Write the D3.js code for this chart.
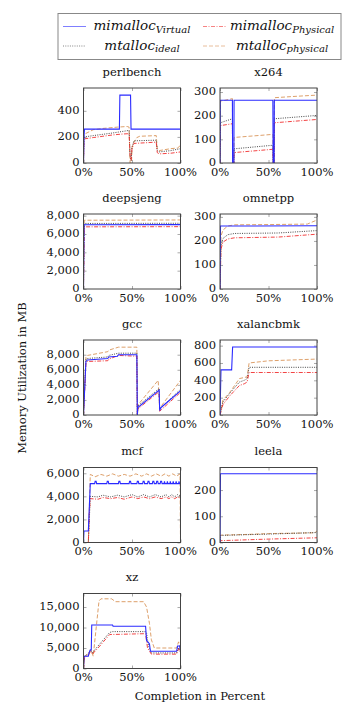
<!DOCTYPE html>
<html lang="en">
<head>
<meta charset="utf-8">
<title>Memory utilization</title>
<script src="https://d3js.org/d3.v7.min.js"></script>
<style>
  body { margin: 0; background: #fff; }
  text { font-family: "DejaVu Serif", serif; fill: #111; }
  .legend text { font-style: italic; }
</style>
</head>
<body>
<div id="chart"></div>
<script>

// benchmarks in reading order (left->right, top->bottom)
var benchmarks = ["perlbench", "x264", "deepsjeng", "omnetpp", "gcc", "xalancbmk", "mcf", "leela", "xz"];
var yMax = [575, 317, 8180, 312, 9950, 865, 6500, 286, 18300];
var yTicks = [
  [0, 200, 400],
  [0, 100, 200, 300],
  [0, 2000, 4000, 6000, 8000],
  [0, 100, 200, 300],
  [0, 2000, 4000, 6000, 8000],
  [0, 200, 400, 600, 800],
  [0, 2000, 4000, 6000],
  [0, 100, 200],
  [0, 5000, 10000, 15000]
];
var xTicks = [0, 50, 100];

// series: [percent, MB] per benchmark
var mimallocVirtual = [
  [[0,0],[0.5,200],[1,260],[37,260],[37.5,520],[48.5,520],[49,260],[100,260]],
  [[0,0],[0.3,265],[12.8,265],[13,0],[14.3,0],[14.5,265],[54.5,265],[54.8,0],[55.8,0],[56,265],[100,265]],
  [[0,0],[0.5,7000],[100,7020]],
  [[0,0],[0.5,262],[100,263]],
  [[0,0],[2.5,7100],[4,7300],[25,7500],[26,7700],[35,7800],[36,8000],[55,8000],[55.5,0],[56,1000],[78,3300],[78.5,600],[80,1000],[100,3200]],
  [[0,0],[1,520],[12,520],[13,785],[100,785]],
  [[0,0],[0.5,1000],[5,1000],[7,5100],[11.5,5100],[12,5300],[13,5300],[13.5,5100],[24,5100],[24.5,5300],[25.5,5300],[26,5100],
   [36,5100],[36.5,5300],[37.5,5300],[38,5100],[47,5100],[47.5,5300],[48.5,5300],[49,5100],[55,5100],[55.5,5300],[56.5,5300],[57,5100],
   [61,5100],[61.5,5300],[62.5,5300],[63,5100],[66,5100],[66.5,5300],[67.5,5300],[68,5100],[71,5100],[71.5,5300],[72.5,5300],[73,5100],
   [75,5100],[75.5,5300],[76.5,5300],[77,5100],[79,5100],[79.5,5300],[80.5,5300],[81,5100],[83,5100],[83.5,5300],[84,5100],
   [86,5100],[86.5,5300],[87,5100],[89,5100],[89.5,5300],[90,5100],[92,5100],[92.5,5300],[93,5100],[95,5100],[95.5,5300],[96,5100],
   [98,5100],[98.5,5300],[99,5100],[100,5100]],
  [[0,0],[0.5,262],[100,262]],
  [[0,0],[0.5,3000],[5,3000],[6,4000],[7,4500],[8,4500],[8.5,10600],[30,10600],[30.5,10300],[64,10300],[65,6800],[67,6300],[68,6000],[69,4200],[96,4200],[97,5500],[99,5500],[100,4500]]
];

var mimallocPhysical = [
  [[0,0],[0.5,170],[1,185],[10,195],[20,205],[30,215],[40,222],[47,225],[48,60],[49,20],[50,110],[52,150],[75,160],[76,80],[78,70],[90,75],[100,85]],
  [[0,0],[0.3,158],[12.8,166],[13,0],[14.3,0],[14.5,44],[54.5,58],[54.8,0],[55.8,0],[56,170],[100,184]],
  [[0,0],[0.8,6780],[100,6800]],
  [[0,0],[1,165],[3,195],[8,208],[15,213],[60,216],[100,228]],
  [[0,0],[2.5,6900],[4,7100],[25,7200],[26,7400],[36,7900],[55,7800],[55.5,0],[56,800],[78,3100],[78.5,500],[100,3000]],
  [[0,0],[3,120],[10,220],[20,340],[25,360],[28,380],[30,490],[100,490]],
  [[0,0],[5,0],[6,2500],[7,3800],[15,3750],[20,3900],[28,3800],[35,3900],[42,3750],[50,3950],[56,3800],[62,3950],[68,3800],[74,3950],
   [80,3800],[85,3950],[88,3800],[91,3950],[94,3800],[97,3950],[100,3850]],
  [[0,0],[0.5,7],[50,13],[100,18]],
  [[0,0],[1,2700],[5,3200],[7,4200],[9,3500],[15,5000],[27,8300],[30,8300],[64,8500],[66,5000],[70,3500],[96,3500],[98,4800],[100,4000]]
];

var mtallocIdeal = [
  [[0,0],[0.5,190],[1,200],[10,210],[30,230],[47,250],[48,60],[49,20],[50,120],[52,170],[75,175],[76,95],[78,85],[90,95],[100,110]],
  [[0,0],[0.3,170],[12.8,187],[13,0],[14.3,0],[14.5,60],[54.5,75],[54.8,0],[55.8,0],[56,187],[100,201]],
  [[0,0],[0.8,7150],[100,7170]],
  [[0,0],[1,180],[3,210],[8,226],[15,231],[60,233],[100,243]],
  [[0,0],[2.5,7400],[4,7500],[25,7700],[26,7900],[36,8200],[55,8200],[55.5,0],[56,1200],[78,3500],[78.5,800],[100,3400]],
  [[0,0],[3,150],[10,250],[20,380],[25,400],[28,420],[30,550],[100,550]],
  [[0,0],[5,0],[6,2000],[7,4000],[15,3950],[20,4100],[28,3950],[35,4100],[42,3950],[50,4150],[56,3950],[62,4150],[68,3950],[74,4150],
   [80,3950],[85,4150],[88,3950],[91,4150],[94,3950],[97,4150],[100,4000]],
  [[0,0],[0.5,27],[50,32],[100,38]],
  [[0,0],[1,3000],[5,3500],[7,4600],[9,3800],[15,5500],[27,8800],[30,9000],[64,9000],[65,8600],[67,5500],[70,3800],[96,3800],[98,5000],[100,4000]]
];

var mtallocPhysical = [
  [[0,0],[0.5,210],[2,225],[10,255],[20,265],[35,275],[45,280],[47,275],[48,0],[49.5,0],[50,120],[52,160],[55,195],[58,205],[75,210],[76,110],[78,95],[90,110],[97,115],[100,135]],
  [[0,0],[0.3,262],[5,265],[12.8,272],[13,0],[14.3,0],[14.5,108],[30,113],[54.5,121],[54.8,0],[55.8,0],[56,276],[75,281],[100,287]],
  [[0,0],[0.8,7500],[100,7530]],
  [[0,0],[1,220],[3,245],[8,262],[15,267],[50,268],[90,270],[100,287]],
  [[0,0],[2.5,7700],[4,7900],[25,8400],[26,8600],[36,9000],[55,9000],[55.5,0],[56.5,1400],[77,4600],[78.5,900],[100,4600]],
  [[0,0],[3,170],[10,260],[20,420],[28,440],[30,600],[50,625],[100,645]],
  [[0,0],[5,0],[6,3000],[7,5900],[12,5700],[18,5900],[24,5750],[30,5950],[36,5750],[42,5900],[48,5750],[54,5950],[60,5750],
   [65,5950],[70,5750],[75,5950],[80,5750],[84,5950],[88,5750],[92,5950],[96,5750],[99.5,5950],[100,0]],
  [[0,0],[0.5,28],[30,31],[50,34],[98,37],[100,45]],
  [[0,0],[1,3000],[4,3500],[6,4000],[8,4500],[10,3000],[14,12000],[16,16500],[18,17000],[29,17000],[33,16300],[62,16300],[65,15000],[68,11000],[70,7000],[73,5000],[96,5000],[98,6500],[100,5000]]
];

var seriesNames = ["mimalloc|Virtual", "mimalloc|Physical", "mtalloc|ideal", "mtalloc|physical"];
var seriesData = [mimallocVirtual, mimallocPhysical, mtallocIdeal, mtallocPhysical];
var seriesColor = ["#2a2aff", "#f03030", "#333333", "#d9955a"];
var seriesDash = [null, "4,1.5,1,1.5", "1,1.3", "4,2"];

var width = 356, height = 723;
var colX = [83.5, 220];
var rowY = [88, 214, 340, 467.5, 593.5];
var pw = 97, ph = 75;

var svg = d3.select("#chart").append("svg")
    .attr("width", width)
    .attr("height", height);

svg.append("rect").attr("width", width).attr("height", height).attr("fill", "#fff");

var x = d3.scaleLinear().domain([0, 100]).range([0, pw]);

benchmarks.forEach(function(name, i) {
  var y = d3.scaleLinear().domain([0, yMax[i]]).range([ph, 0]);
  var g = svg.append("g")
      .attr("transform", "translate(" + colX[i % 2] + "," + rowY[Math.floor(i / 2)] + ")");

  g.append("clipPath").attr("id", "clip" + i)
    .append("rect").attr("width", pw).attr("height", ph);

  // inner ticks on all four sides
  g.append("g").call(d3.axisBottom(x).tickValues(xTicks).tickSize(3).tickFormat(""))
    .call(function(a) { a.select(".domain").remove(); a.selectAll("line").attr("stroke", "#aaa").attr("y2", -3); })
    .attr("transform", "translate(0," + ph + ")");
  g.append("g").call(d3.axisTop(x).tickValues(xTicks).tickSize(3).tickFormat(""))
    .call(function(a) { a.select(".domain").remove(); a.selectAll("line").attr("stroke", "#aaa").attr("y2", 3); });
  g.append("g").call(d3.axisLeft(y).tickValues(yTicks[i]).tickSize(3).tickFormat(""))
    .call(function(a) { a.select(".domain").remove(); a.selectAll("line").attr("stroke", "#aaa").attr("x2", 3); });
  g.append("g").call(d3.axisRight(y).tickValues(yTicks[i]).tickSize(3).tickFormat(""))
    .call(function(a) { a.select(".domain").remove(); a.selectAll("line").attr("stroke", "#aaa").attr("x2", -3); })
    .attr("transform", "translate(" + pw + ",0)");

  // series
  var line = d3.line()
      .x(function(d) { return x(d[0]); })
      .y(function(d) { return y(d[1]); });

  var order = [3, 2, 1, 0];
  order.forEach(function(s) {
    g.append("path")
      .datum(seriesData[s][i])
      .attr("clip-path", "url(#clip" + i + ")")
      .attr("fill", "none")
      .attr("stroke", seriesColor[s])
      .attr("stroke-width", s == 0 ? 1.1 : 0.9)
      .attr("stroke-dasharray", seriesDash[s])
      .attr("d", line);
  });

  g.append("rect")
    .attr("width", pw).attr("height", ph)
    .attr("fill", "none").attr("stroke", "#444").attr("stroke-width", 1);

  // labels
  g.append("g").attr("font-size", 11.5)
    .selectAll("text").data(yTicks[i]).enter().append("text")
    .attr("x", -4).attr("y", function(d) { return y(d); })
    .attr("dy", "0.3em")
    .attr("text-anchor", "end")
    .text(d3.format(","));

  g.append("g").attr("font-size", 11.5)
    .selectAll("text").data(xTicks).enter().append("text")
    .attr("x", function(d) { return x(d); })
    .attr("y", ph + 12.5)
    .attr("text-anchor", "middle")
    .text(function(d) { return d + "%"; });

  g.append("text")
    .attr("x", pw / 2).attr("y", -12.5)
    .attr("text-anchor", "middle")
    .attr("font-size", 11.5)
    .text(name);
});

// axis titles
svg.append("text")
  .attr("transform", "translate(26,378) rotate(-90)")
  .attr("text-anchor", "middle")
  .attr("font-size", 11.5)
  .text("Memory Utilization in MB");

svg.append("text")
  .attr("x", 200).attr("y", 700)
  .attr("text-anchor", "middle")
  .attr("font-size", 11.5)
  .text("Completion in Percent");

// legend
var legend = svg.append("g").attr("class", "legend");
legend.append("rect")
  .attr("x", 58).attr("y", 13.5).attr("width", 283).attr("height", 46)
  .attr("fill", "#fff").attr("stroke", "#888").attr("stroke-width", 1);

var legPos = [[63, 26.5], [203, 26.5], [63, 46], [203, 46]];
seriesNames.forEach(function(nm, s) {
  var p = legPos[s];
  legend.append("line")
    .attr("x1", p[0]).attr("x2", p[0] + 23)
    .attr("y1", p[1]).attr("y2", p[1])
    .attr("stroke", seriesColor[s]).attr("stroke-opacity", 0.6)
    .attr("stroke-width", 1)
    .attr("stroke-dasharray", seriesDash[s]);
  var parts = nm.split("|");
  var t = legend.append("text")
    .attr("x", p[0] + 79).attr("y", p[1] + 3.5)
    .attr("text-anchor", "middle")
    .attr("font-size", 13.5);
  t.append("tspan").text(parts[0]);
  t.append("tspan").attr("font-size", 10).attr("dy", 2.5).text(parts[1]);
});

</script>
</body>
</html>
